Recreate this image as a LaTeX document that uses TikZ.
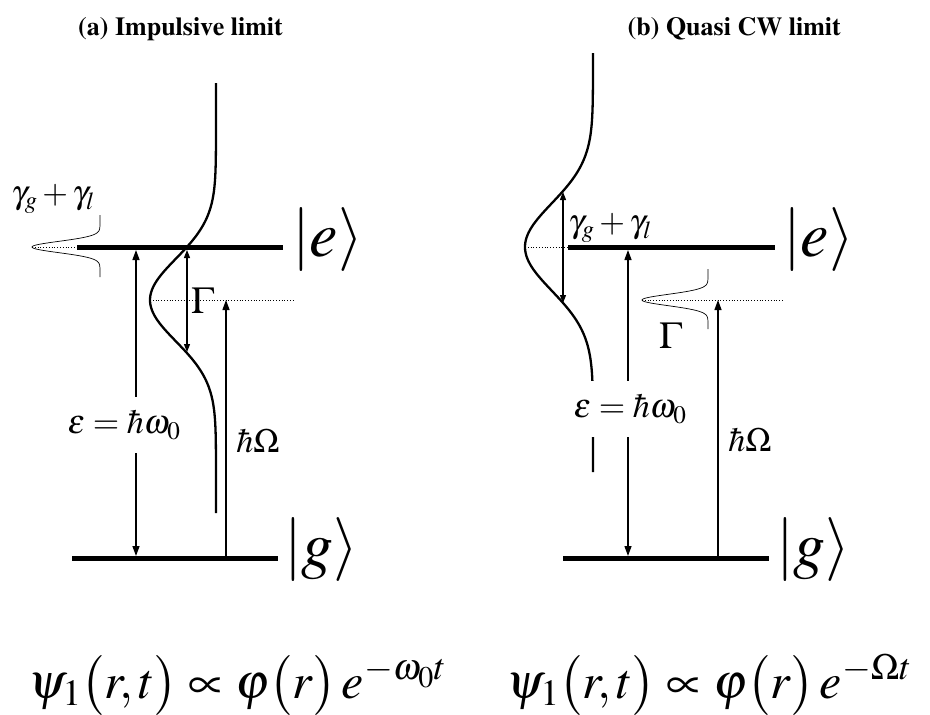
\documentclass[tikz,border=0pt]{standalone}
\usepackage[T1]{fontenc}
\usepackage{mathptmx}
\usepackage{tikz}
\usetikzlibrary{positioning, arrows.meta}
\newcommand{\fsz}[1]{\fontsize{#1}{#1}\selectfont}

\begin{document}
\begin{tikzpicture}[
    x=1pt, y=-1pt,
    level/.style={line width=5pt},
    gauss/.style={line width=2.3pt, line join=round},
    peak/.style={line width=0.7pt},
    guide/.style={dotted, line width=0.8pt},
    arrow/.style={-{Triangle[length=10pt, width=7pt]}, line width=1.3pt},
    twoway/.style={{Triangle[length=10pt, width=7pt]}-{Triangle[length=10pt, width=7pt]}, line width=1.3pt},
    spread/.style={{Triangle[length=8pt, width=6pt]}-{Triangle[length=8pt, width=6pt]}, line width=1.1pt},
    ket/.style={anchor=west, inner sep=0pt, font=\fsz{64}},
    lbl/.style={inner sep=1pt, font=\fsz{34}},
    gap/.style={lbl, fill=white, inner xsep=2pt, inner ysep=14pt},
    title/.style={anchor=east, inner sep=0pt, font=\fsz{26}\bfseries},
    formula/.style={anchor=base west, inner sep=0pt, font=\fsz{50}}
]
    \useasboundingbox (0,0) rectangle (930,715);

    \node[title] (titleA) at (283,29) {(a) Impulsive limit};
    \node[title] (titleB) at (841,29) {(b) Quasi CW limit};

    \coordinate (eAl) at (77,247);
    \coordinate (eAr) at (283,247);
    \coordinate (gAl) at (72,558);
    \coordinate (gAr) at (278,558);
    \draw[level] (eAl) -- (eAr);
    \draw[level] (gAl) -- (gAr);
    \node[ket] (ketEA) at (292,240) {$\left|e\right\rangle$};
    \node[ket] (ketGA) at (284,550) {$\left|g\right\rangle$};

    \draw[gauss] plot[domain=83:513, samples=160, variable=\u] ({216-66*exp(-((\u-300)/41.4)^2/2)}, \u);
    \draw[peak] plot[domain=215:277, samples=200, variable=\u] ({100-68*exp(-((\u-247)/8)^2)}, \u);
    \coordinate (tipA) at (32,247);
    \coordinate (lowA) at (150,300);
    \coordinate (dotA) at (293,300);
    \draw[guide] (tipA) -- (eAl);
    \draw[guide] (lowA) -- (dotA);
    \node[lbl, font=\fsz{33}] (gamA) at (53,199) {$\gamma_g+\gamma_l$};

    \coordinate (epsAt) at (136,250);
    \coordinate (epsAb) at (136,556);
    \draw[twoway] (epsAb) -- (epsAt);
    \node[gap] (epsA) at (124,425) {$\varepsilon=\hbar\omega_0$};
    \coordinate (GamAt) at (187,250);
    \coordinate (GamAb) at (187,352);
    \draw[spread] (GamAt) -- (GamAb);
    \node[lbl, font=\fsz{38}] (GamA) at (203,301) {$\Gamma$};
    \coordinate (hOmAb) at (226,556);
    \coordinate (hOmAt) at (226,300);
    \draw[arrow] (hOmAb) -- (hOmAt);
    \node[lbl] (hOmA) at (258,441) {$\hbar\Omega$};

    \coordinate (eBl) at (568,247);
    \coordinate (eBr) at (775,247);
    \coordinate (gBl) at (563,558);
    \coordinate (gBr) at (769,558);
    \draw[level] (eBl) -- (eBr);
    \draw[level] (gBl) -- (gBr);
    \node[ket] (ketEB) at (783,240) {$\left|e\right\rangle$};
    \node[ket] (ketGB) at (776,550) {$\left|g\right\rangle$};

    \draw[gauss] plot[domain=53:472, samples=160, variable=\u] ({593-68*exp(-((\u-247)/43.7)^2/2)}, \u);
    \draw[peak] plot[domain=269:329, samples=200, variable=\u] ({708-66*exp(-((\u-300)/8)^2)}, \u);
    \coordinate (lowB) at (525,247);
    \coordinate (tipB) at (642,300);
    \coordinate (dotB) at (784,300);
    \draw[guide] (lowB) -- (eBl);
    \draw[guide] (tipB) -- (dotB);
    \coordinate (gamBt) at (563,192);
    \coordinate (gamBb) at (563,303);
    \draw[spread] (gamBt) -- (gamBb);
    \node[lbl, font=\fsz{33}] (gamB) at (610,228) {$\gamma_g+\gamma_l$};

    \coordinate (epsBt) at (628,250);
    \coordinate (epsBb) at (628,556);
    \draw[twoway] (epsBb) -- (epsBt);
    \node[gap] (epsB) at (630,409) {$\varepsilon=\hbar\omega_0$};
    \node[lbl, font=\fsz{38}] (GamB) at (671,336) {$\Gamma$};
    \coordinate (hOmBb) at (718,556);
    \coordinate (hOmBt) at (718,300);
    \draw[arrow] (hOmBb) -- (hOmBt);
    \node[lbl] (hOmB) at (750,440) {$\hbar\Omega$};

    \node[formula] (psiA) at (28,698) {$\psi_1\bigl(r,t\bigr)\propto\varphi\bigl(r\bigr)\,e^{-\omega_0t}$};
    \node[formula] (psiB) at (506,698) {$\psi_1\bigl(r,t\bigr)\propto\varphi\bigl(r\bigr)\,e^{-\Omega t}$};
\end{tikzpicture}
\end{document}
